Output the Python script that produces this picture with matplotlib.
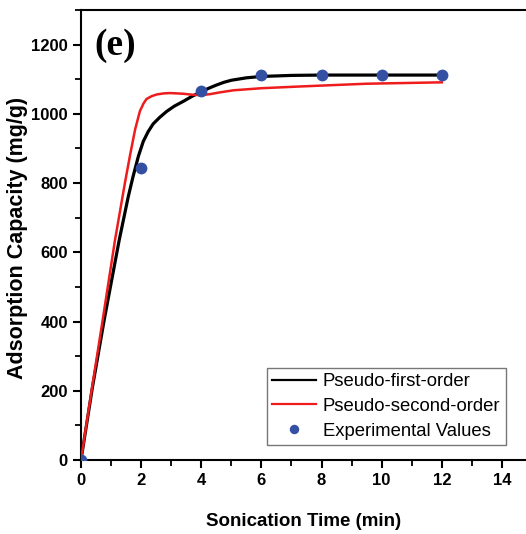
import matplotlib
matplotlib.use("Agg")
import matplotlib.pyplot as plt
from matplotlib.ticker import MultipleLocator

# experimental points
t_exp = [0, 2, 4, 6, 8, 10, 12]
q_exp = [0, 843, 1066, 1111, 1112, 1112, 1112]

# fitted curves
t_first = [0, 0.38, 0.77, 1.27, 1.57, 1.72, 1.91, 2.07, 2.23, 2.4, 2.62, 2.85, 3.1, 3.4, 3.68,
           3.96, 4.25, 4.5, 4.75, 5.0, 5.5, 6.0, 7.0, 8.0, 10.0, 12.0]
q_first = [0, 210, 404, 635, 760, 815, 878, 920, 948, 971, 990, 1007, 1022, 1036, 1050,
           1062, 1074, 1083, 1091, 1097, 1104, 1108, 1111, 1112, 1112, 1112]

t_second = [0, 0.36, 0.72, 1.13, 1.35, 1.46, 1.63, 1.8, 1.96, 2.08, 2.18, 2.35, 2.52, 2.75,
            2.96, 3.2, 3.4, 3.73, 4.0, 4.3, 4.62, 5.07, 6.0, 7.28, 9.5, 12.0]
q_second = [0, 205, 404, 635, 745, 800, 880, 955, 1008, 1030, 1043, 1051, 1056, 1059,
            1060, 1059, 1058, 1055, 1054, 1057, 1062, 1068, 1074, 1079, 1087, 1091]

plt.rcParams['font.family'] = ['Liberation Sans', 'DejaVu Sans']

fig = plt.figure(figsize=(5.26, 5.34), dpi=100)
ax = fig.add_axes([0.154, 0.1386, 0.846, 0.8427])

ax.plot(t_first, q_first, color='black', lw=2.3, label='Pseudo-first-order', zorder=3,
        solid_joinstyle='round')
ax.plot(t_second, q_second, color='#ee1c1c', lw=1.8, label='Pseudo-second-order', zorder=4,
        solid_joinstyle='round')
ax.plot(t_exp, q_exp, 'o', color='#3350a3', ms=8.5, mec='none', label='Experimental Values', zorder=5)

ax.set_xlim(0, 14.8)
ax.set_ylim(0, 1300)
ax.xaxis.set_major_locator(MultipleLocator(2))
ax.xaxis.set_minor_locator(MultipleLocator(1))
ax.yaxis.set_major_locator(MultipleLocator(200))
ax.yaxis.set_minor_locator(MultipleLocator(100))

ax.spines['right'].set_visible(False)
for s in ['left', 'bottom', 'top']:
    ax.spines[s].set_linewidth(1.5)

ax.tick_params(which='major', direction='out', length=6, width=1.5, labelsize=12)
ax.tick_params(which='minor', direction='out', length=4, width=1.3)
for lab in ax.get_xticklabels() + ax.get_yticklabels():
    lab.set_fontweight('bold')

ax.set_xlabel('Sonication Time (min)', fontsize=13.5, fontweight='bold', labelpad=18)
ax.set_ylabel('Adsorption Capacity (mg/g)', fontsize=15.5, fontweight='bold')
ax.yaxis.set_label_coords(-0.118, 0.493)

ax.text(0.031, 0.96, '(e)', transform=ax.transAxes, fontsize=27, fontweight='bold',
        family=['Liberation Serif', 'DejaVu Serif'], va='top', ha='left')

leg = ax.legend(loc='lower right', bbox_to_anchor=(0.955, 0.033), fontsize=13.3, frameon=True,
                fancybox=False, edgecolor='#555555', handlelength=2.4, borderpad=0.3,
                labelspacing=0.42, handletextpad=0.35, markerscale=0.8, borderaxespad=0)
leg.get_frame().set_linewidth(1.0)
for h in leg.legend_handles[:2]:
    h.set_linewidth(1.6)

fig.savefig('out.png', dpi=100)
